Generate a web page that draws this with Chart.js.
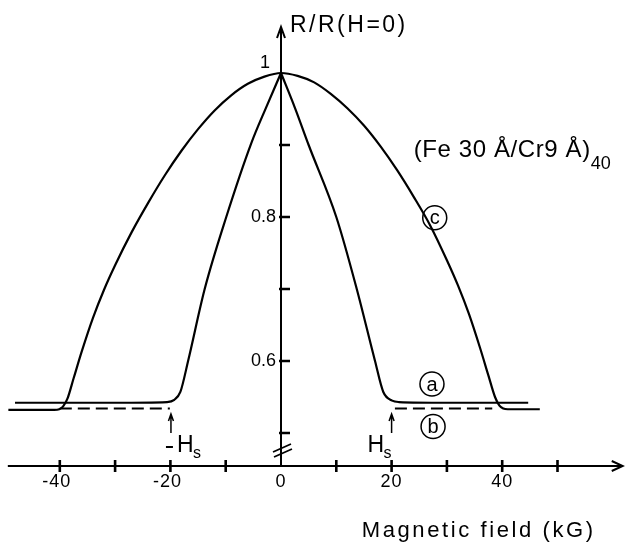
<!DOCTYPE html>
<html>
<head>
<meta charset="utf-8">
<script src="https://cdn.jsdelivr.net/npm/chart.js@4.4.0/dist/chart.umd.min.js"></script>
<style>
  html, body { margin: 0; padding: 0; background: #fff; }
  canvas { display: block; }
</style>
</head>
<body>
<canvas id="gmrChart" width="625" height="544"></canvas>
<script>
// curve (a): field in kG, R/R(H=0)
const fieldA = [-48.1, -40, -30, -20.6, -19.3, -18.2, -16.8, -13.8, -9.9, -5.4, -2.7, 0, 2.5, 5.0, 10.0, 13.7, 17.0, 18.5, 20.1, 21.3, 30, 38, 44.7];
const ratioA = [0.542, 0.542, 0.542, 0.543, 0.546, 0.557, 0.600, 0.700, 0.800, 0.902, 0.952, 1.0, 0.952, 0.900, 0.800, 0.700, 0.600, 0.557, 0.545, 0.543, 0.542, 0.542, 0.542];

// curve (b): dashed plateaus only (null = gap)
const fieldB = [-40.0, -20.1, 0, 20.6, 38.2];
const ratioB = [0.534, 0.534, null, 0.534, 0.534];

// curve (c)
const fieldC = [-49.3, -41, -40.1, -39.4, -38.6, -37.5, -36, -34, -32, -30, -27, -24, -21, -18, -15, -12, -9, -6, -3, 0,
                3, 6, 9, 12, 15, 18, 21, 24, 27, 30, 32, 34, 36, 37.5, 38.7, 39.5, 40.2, 41, 46.8];
const ratioC = [0.532, 0.532, 0.533, 0.537, 0.548, 0.576, 0.614, 0.660, 0.699, 0.733, 0.779, 0.820, 0.858, 0.892, 0.922, 0.948, 0.969, 0.985, 0.995, 1.0,
                0.996, 0.987, 0.971, 0.951, 0.927, 0.898, 0.865, 0.828, 0.788, 0.740, 0.705, 0.665, 0.618, 0.580, 0.550, 0.538, 0.534, 0.533, 0.533];

// axis ticks and labels
const xTickValues = [-40, -30, -20, -10, 10, 20, 30, 40, 50];
const xLabelValues = [-40, -20, 0, 20, 40];
const yTickValues = [0.5, 0.6, 0.7, 0.8, 0.9];
const yLabelValues = [0.6, 0.8, 1];

const FONT = "'Liberation Sans', Arial, sans-serif";

const toPoints = (xs, ys) => xs.map((x, i) => ({ x, y: ys[i] }));
const pointsA = toPoints(fieldA, ratioA);

const lineStyle = {
  borderColor: "#000",
  borderWidth: 2.2,
  pointRadius: 0,
  fill: false,
  clip: false,
  cubicInterpolationMode: "monotone"
};

// draws the hand-made axes and annotations of the figure
const paperAxes = {
  id: "paperAxes",
  afterDatasetsDraw(chart) {
    const ctx = chart.ctx;
    const X = v => chart.scales.x.getPixelForValue(v);
    const Y = v => chart.scales.y.getPixelForValue(v);
    const x0 = X(0);
    const yAx = Y(0.4542);

    const text = (str, x, y, size, align, spacing) => {
      ctx.font = size + "px " + FONT;
      ctx.textAlign = align || "left";
      ctx.letterSpacing = (spacing || 0) + "px";
      ctx.fillText(str, x, y);
      ctx.letterSpacing = "0px";
    };

    ctx.save();
    ctx.strokeStyle = "#000";
    ctx.fillStyle = "#000";
    ctx.lineCap = "butt";

    // x axis with arrow
    ctx.lineWidth = 2;
    const xEnd = X(61.8);
    ctx.beginPath();
    ctx.moveTo(X(-49.4), yAx);
    ctx.lineTo(xEnd, yAx);
    ctx.moveTo(xEnd - 11, yAx - 5);
    ctx.lineTo(xEnd, yAx);
    ctx.lineTo(xEnd - 11, yAx + 5);
    ctx.stroke();

    // y axis with arrow
    const yTop = Y(1.0639);
    ctx.beginPath();
    ctx.moveTo(x0, yAx);
    ctx.lineTo(x0, yTop);
    ctx.moveTo(x0 - 4, yTop + 11);
    ctx.lineTo(x0, yTop);
    ctx.lineTo(x0 + 4, yTop + 11);
    ctx.stroke();

    // axis break
    ctx.lineWidth = 1.8;
    ctx.beginPath();
    ctx.moveTo(x0 - 8, yAx - 14);
    ctx.lineTo(x0 + 10, yAx - 22);
    ctx.moveTo(x0 - 7, yAx - 9);
    ctx.lineTo(x0 + 11, yAx - 17);
    ctx.stroke();

    // ticks
    ctx.lineWidth = 2.6;
    ctx.beginPath();
    xTickValues.forEach(v => {
      ctx.moveTo(X(v), yAx - 6);
      ctx.lineTo(X(v), yAx + 6);
    });
    yTickValues.forEach(v => {
      ctx.moveTo(x0 - 2, Y(v));
      ctx.lineTo(x0 + 9, Y(v));
    });
    ctx.stroke();

    // tick labels
    ctx.textBaseline = "middle";
    xLabelValues.forEach(v => {
      const shift = v < 0 ? -3 : 0;
      text(String(v), X(v) + shift, yAx + 16, 18, "center", 1);
    });
    yLabelValues.forEach(v => {
      if (v === 1) text("1", x0 - 16, Y(v) - 10, 18, "center");
      else text(String(v), x0 - 5, Y(v), 18, "right");
    });

    // axis titles
    ctx.textBaseline = "alphabetic";
    text("R/R(H=0)", x0 + 9, yTop + 5, 23, "left", 2.5);
    text("Magnetic field (kG)", X(14.6), yAx + 71, 22, "left", 2.6);

    // sample label
    ctx.font = "24px " + FONT;
    ctx.letterSpacing = "0.6px";
    const sample = "(Fe 30 Å/Cr9 Å)";
    const sx = X(24);
    ctx.textAlign = "left";
    ctx.fillText(sample, sx, Y(0.883));
    const sw = ctx.measureText(sample).width;
    ctx.letterSpacing = "0px";
    text("40", sx + sw, Y(0.866), 18, "left");

    // circled curve labels
    const circled = (letter, xv, yv) => {
      const cx = X(xv), cy = Y(yv);
      ctx.lineWidth = 1.5;
      ctx.beginPath();
      ctx.arc(cx, cy, 12, 0, Math.PI * 2);
      ctx.stroke();
      ctx.textBaseline = "middle";
      text(letter, cx, cy + 1, 20, "center");
      ctx.textBaseline = "alphabetic";
    };
    circled("c", 27.8, 0.799);
    circled("a", 27.3, 0.568);
    circled("b", 27.5, 0.509);

    // saturation field markers
    const arrowUp = xv => {
      const ax = X(xv);
      ctx.lineWidth = 1.5;
      ctx.beginPath();
      ctx.moveTo(ax, yAx - 33);
      ctx.lineTo(ax, yAx - 51);
      ctx.moveTo(ax - 2.5, yAx - 45);
      ctx.lineTo(ax, yAx - 52);
      ctx.lineTo(ax + 2.5, yAx - 45);
      ctx.stroke();
    };
    arrowUp(-19.9);
    arrowUp(20);

    const xl = X(-19.9);
    ctx.lineWidth = 2;
    ctx.beginPath();
    ctx.moveTo(xl - 5, yAx - 19);
    ctx.lineTo(xl + 2, yAx - 19);
    ctx.stroke();
    text("H", xl + 6, yAx - 14, 23, "left");
    text("s", xl + 22, yAx - 8, 16, "left");

    const xr = X(20);
    text("H", xr - 24, yAx - 14, 23, "left");
    text("s", xr - 8, yAx - 8, 16, "left");

    ctx.restore();
  }
};

new Chart(document.getElementById("gmrChart"), {
  type: "line",
  data: {
    datasets: [
      { ...lineStyle, label: "a left", data: pointsA.filter(p => p.x <= 0) },
      { ...lineStyle, label: "a right", data: pointsA.filter(p => p.x >= 0) },
      { ...lineStyle, label: "b", data: toPoints(fieldB, ratioB), borderWidth: 1.8, borderDash: [12, 6], spanGaps: false },
      { ...lineStyle, label: "c", data: toPoints(fieldC, ratioC) }
    ]
  },
  options: {
    responsive: false,
    animation: false,
    layout: { padding: { left: 4.5, right: 67.5, top: 73, bottom: 111 } },
    scales: {
      x: { type: "linear", min: -50, max: 50, display: false },
      y: { type: "linear", min: 0.5, max: 1.0, display: false }
    },
    plugins: {
      legend: { display: false },
      tooltip: { enabled: false }
    }
  },
  plugins: [paperAxes]
});
</script>
</body>
</html>
